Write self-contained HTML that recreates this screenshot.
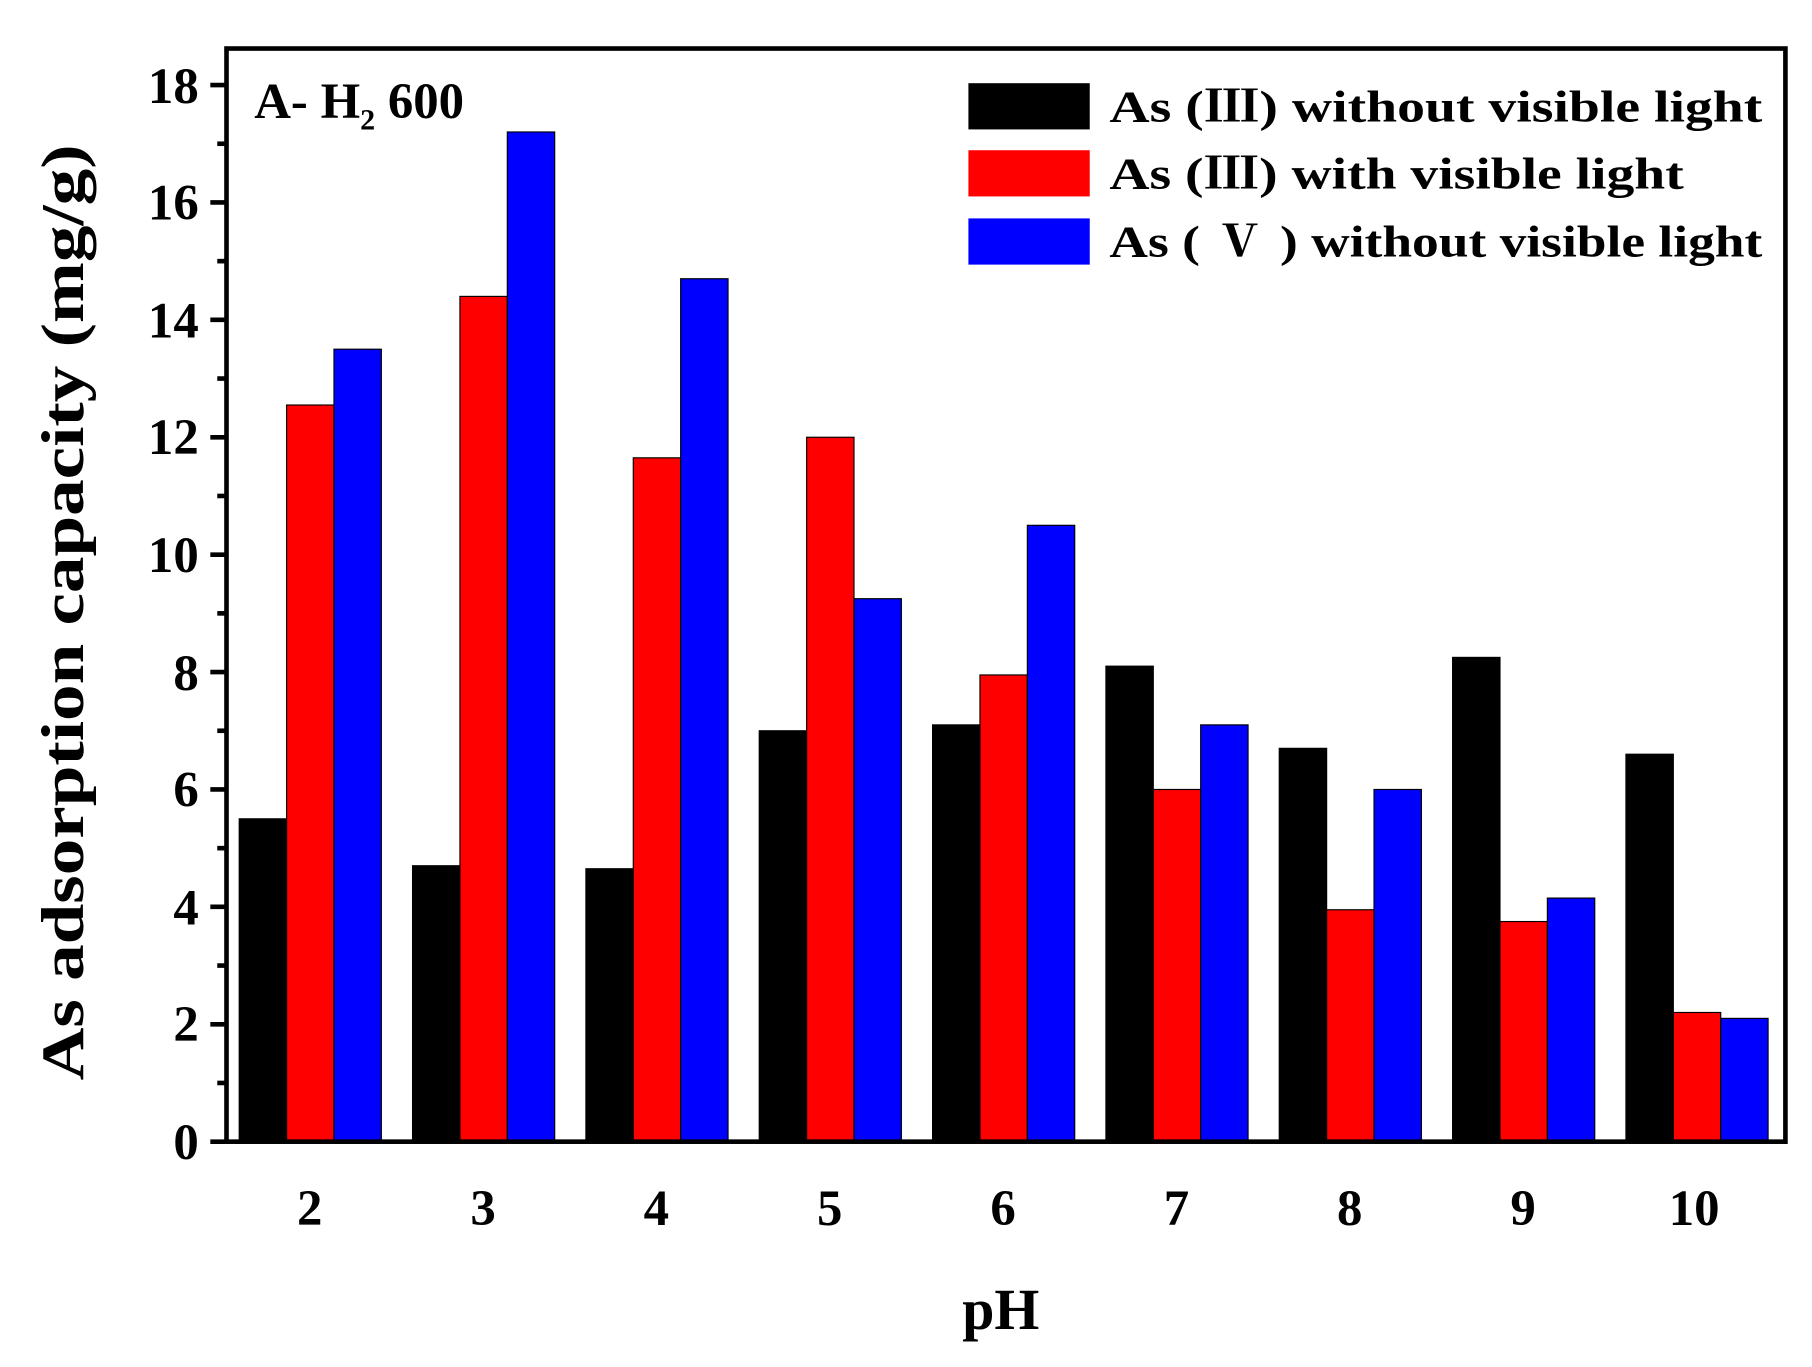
<!DOCTYPE html>
<html><head><meta charset="utf-8"><style>html,body{margin:0;padding:0;background:#fff}svg{display:block}</style></head>
<body>
<svg width="1812" height="1367" viewBox="0 0 1568 1183" preserveAspectRatio="none" xmlns="http://www.w3.org/2000/svg" font-family="'Liberation Serif', 'Noto Serif CJK SC', serif" font-weight="bold">
<rect width="1568" height="1183" fill="#fff"/>
<g stroke="#000" stroke-width="1">
<rect x="207" y="708.6" width="41" height="279.4" fill="#000"/>
<rect x="248" y="350.5" width="41" height="637.5" fill="#f00"/>
<rect x="289" y="302.2" width="41" height="685.8" fill="#00f"/>
<rect x="357" y="749.2" width="41" height="238.8" fill="#000"/>
<rect x="398" y="256.5" width="41" height="731.5" fill="#f00"/>
<rect x="439" y="114.2" width="41" height="873.8" fill="#00f"/>
<rect x="507" y="751.8" width="41" height="236.2" fill="#000"/>
<rect x="548" y="396.2" width="41" height="591.8" fill="#f00"/>
<rect x="589" y="241.2" width="41" height="746.8" fill="#00f"/>
<rect x="657" y="632.4" width="41" height="355.6" fill="#000"/>
<rect x="698" y="378.4" width="41" height="609.6" fill="#f00"/>
<rect x="739" y="518.1" width="41" height="469.9" fill="#00f"/>
<rect x="807" y="627.3" width="41" height="360.7" fill="#000"/>
<rect x="848" y="584.1" width="41" height="403.9" fill="#f00"/>
<rect x="889" y="454.6" width="41" height="533.4" fill="#00f"/>
<rect x="957" y="576.5" width="41" height="411.5" fill="#000"/>
<rect x="998" y="683.2" width="41" height="304.8" fill="#f00"/>
<rect x="1039" y="627.3" width="41" height="360.7" fill="#00f"/>
<rect x="1107" y="647.6" width="41" height="340.4" fill="#000"/>
<rect x="1148" y="787.3" width="41" height="200.7" fill="#f00"/>
<rect x="1189" y="683.2" width="41" height="304.8" fill="#00f"/>
<rect x="1257" y="568.9" width="41" height="419.1" fill="#000"/>
<rect x="1298" y="797.5" width="41" height="190.5" fill="#f00"/>
<rect x="1339" y="777.2" width="41" height="210.8" fill="#00f"/>
<rect x="1407" y="652.7" width="41" height="335.3" fill="#000"/>
<rect x="1448" y="876.2" width="41" height="111.8" fill="#f00"/>
<rect x="1489" y="881.3" width="41" height="106.7" fill="#00f"/>
</g>
<rect x="196" y="42" width="1349" height="946" fill="none" stroke="#000" stroke-width="4"/>
<g stroke="#000" stroke-width="4">
<line x1="182" y1="988" x2="196" y2="988"/><line x1="182" y1="886.4" x2="196" y2="886.4"/><line x1="182" y1="784.8" x2="196" y2="784.8"/><line x1="182" y1="683.2" x2="196" y2="683.2"/><line x1="182" y1="581.6" x2="196" y2="581.6"/><line x1="182" y1="480" x2="196" y2="480"/><line x1="182" y1="378.4" x2="196" y2="378.4"/><line x1="182" y1="276.8" x2="196" y2="276.8"/><line x1="182" y1="175.2" x2="196" y2="175.2"/><line x1="182" y1="73.6" x2="196" y2="73.6"/>
<line x1="188" y1="937.2" x2="196" y2="937.2"/><line x1="188" y1="835.6" x2="196" y2="835.6"/><line x1="188" y1="734" x2="196" y2="734"/><line x1="188" y1="632.4" x2="196" y2="632.4"/><line x1="188" y1="530.8" x2="196" y2="530.8"/><line x1="188" y1="429.2" x2="196" y2="429.2"/><line x1="188" y1="327.6" x2="196" y2="327.6"/><line x1="188" y1="226" x2="196" y2="226"/><line x1="188" y1="124.4" x2="196" y2="124.4"/>
</g>
<g font-size="44" text-anchor="end">
<text x="172" y="1003">0</text><text x="172" y="901">2</text><text x="172" y="800">4</text><text x="172" y="698">6</text><text x="172" y="597">8</text><text x="172" y="495">10</text><text x="172" y="393">12</text><text x="172" y="292">14</text><text x="172" y="190">16</text><text x="172" y="89">18</text>
</g>
<g font-size="44" text-anchor="middle">
<text x="268" y="1060">2</text><text x="418" y="1060">3</text><text x="568" y="1060">4</text><text x="718" y="1060">5</text><text x="868" y="1060">6</text><text x="1018" y="1060">7</text><text x="1168" y="1060">8</text><text x="1318" y="1060">9</text><text x="1466" y="1060">10</text>
</g>
<text x="866" y="1150" font-size="50" text-anchor="middle">pH</text>
<text transform="translate(72,530) rotate(-90)" font-size="52" text-anchor="middle" textLength="810" lengthAdjust="spacingAndGlyphs">As adsorption capacity (mg/g)</text>
<text x="220" y="102" font-size="44">A- H<tspan font-size="26" dy="10">2</tspan><tspan dy="-10"> 600</tspan></text>
<rect x="838" y="72" width="105" height="40" fill="#000"/>
<rect x="838" y="130" width="105" height="40" fill="#f00"/>
<rect x="838" y="189" width="105" height="40" fill="#00f"/>
<g font-size="38">
<text x="960" y="105" textLength="565" lengthAdjust="spacingAndGlyphs">As (Ⅲ) without visible light</text>
<text x="960" y="163" textLength="497" lengthAdjust="spacingAndGlyphs">As (Ⅲ) with visible light</text>
<text x="960" y="222" textLength="565" lengthAdjust="spacingAndGlyphs">As ( Ⅴ ) without visible light</text>
</g>
</svg>
</body></html>
